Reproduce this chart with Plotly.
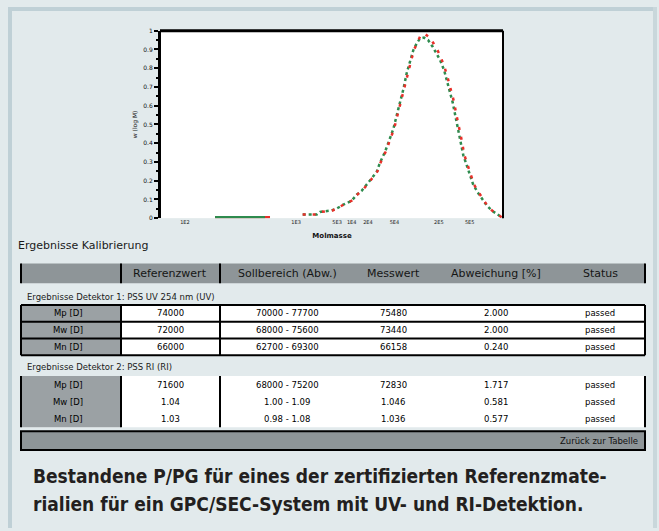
import plotly.graph_objects as go

W, H = 659, 531

# ---------------- chart data (log M vs. normalised signal) ----------------
green_base_x = [2.632, 3.216]
green_base_y = [0.005, 0.005]
red_base_x = [2.632, 3.275]
red_base_y = [0.005, 0.005]

green_x = [3.657, 3.821, 3.860, 3.996, 4.055, 4.132, 4.230, 4.289, 4.347, 4.406,
           4.464, 4.523, 4.561, 4.620, 4.658, 4.717, 4.775, 4.834, 4.874, 4.920,
           4.951, 4.991, 5.029, 5.076, 5.123, 5.178, 5.225, 5.263, 5.310, 5.342,
           5.380, 5.412, 5.439, 5.477, 5.509, 5.536, 5.575, 5.614, 5.653, 5.711,
           5.751, 5.809, 5.868, 5.945, 6.000]
green_y = [0.019, 0.019, 0.033, 0.041, 0.051, 0.072, 0.093, 0.125, 0.146, 0.177,
           0.212, 0.247, 0.296, 0.353, 0.405, 0.475, 0.581, 0.686, 0.774, 0.844,
           0.896, 0.932, 0.958, 0.963, 0.950, 0.914, 0.879, 0.844, 0.791, 0.738,
           0.677, 0.616, 0.554, 0.475, 0.405, 0.335, 0.283, 0.230, 0.177, 0.133,
           0.107, 0.068, 0.041, 0.016, 0.000]

red_x = [3.657, 3.821, 3.870, 4.006, 4.065, 4.142, 4.240, 4.299, 4.357, 4.416,
         4.474, 4.533, 4.571, 4.630, 4.668, 4.727, 4.785, 4.844, 4.884, 4.930,
         4.961, 5.001, 5.037, 5.085, 5.146, 5.190, 5.235, 5.275, 5.320, 5.355,
         5.395, 5.427, 5.452, 5.490, 5.520, 5.547, 5.585, 5.624, 5.662, 5.720,
         5.760, 5.815, 5.872, 5.948, 6.000]
red_y = [0.019, 0.019, 0.033, 0.041, 0.053, 0.074, 0.095, 0.127, 0.148, 0.180,
         0.215, 0.250, 0.299, 0.356, 0.408, 0.478, 0.584, 0.690, 0.778, 0.848,
         0.900, 0.938, 0.975, 0.982, 0.963, 0.930, 0.895, 0.855, 0.800, 0.745,
         0.683, 0.620, 0.558, 0.478, 0.408, 0.338, 0.285, 0.232, 0.178, 0.134,
         0.107, 0.068, 0.040, 0.015, 0.000]

x_tick_vals = [2.28, 3.58, 4.06, 4.23, 4.42, 4.73, 5.25, 5.61]
x_tick_text = ["1E2", "1E3", "5E3", "1E4", "2E4", "5E4", "2E5", "5E5"]
x_title = "Molmasse"
y_title = "w (log M)"

# ---------------- table data ----------------
table_title = "Ergebnisse Kalibrierung"
header_labels = ["", "Referenzwert", "Sollbereich (Abw.)", "Messwert", "Abweichung [%]", "Status"]
section1_label = "Ergebnisse Detektor 1: PSS UV 254 nm (UV)"
section2_label = "Ergebnisse Detektor 2: PSS RI (RI)"
group1_rows = [
    ["Mp [D]", "74000", "70000 - 77700", "75480", "2.000", "passed"],
    ["Mw [D]", "72000", "68000 - 75600", "73440", "2.000", "passed"],
    ["Mn [D]", "66000", "62700 - 69300", "66158", "0.240", "passed"],
]
group2_rows = [
    ["Mp [D]", "71600", "68000 - 75200", "72830", "1.717", "passed"],
    ["Mw [D]", "1.04", "1.00 - 1.09", "1.046", "0.581", "passed"],
    ["Mn [D]", "1.03", "0.98 - 1.08", "1.036", "0.577", "passed"],
]
footer_label = "Zurück zur Tabelle"
caption_lines = [
    "Bestandene P/PG für eines der zertifizierten Referenzmate-",
    "rialien für ein GPC/SEC-System mit UV- und RI-Detektion.",
]

# ---------------- helpers ----------------
def fx(x):
    return x / W

def fy(y):
    return 1 - y / H

BG = "#e2eaec"
BAND = "#bfd0d6"
GREY_HEAD = "#8e9598"
GREY_COL = "#9ba1a4"
GREEN = "#2e8b4e"
RED = "#e8302a"

fig = go.Figure()

fig.add_trace(go.Scatter(x=red_base_x, y=red_base_y, mode="lines",
                         line=dict(color=RED, width=2.5), hoverinfo="skip", showlegend=False))
fig.add_trace(go.Scatter(x=green_base_x, y=green_base_y, mode="lines",
                         line=dict(color=GREEN, width=2.5), hoverinfo="skip", showlegend=False))
fig.add_trace(go.Scatter(x=green_x, y=green_y, mode="lines",
                         line=dict(color=GREEN, width=2.5, dash="3px,3px"),
                         showlegend=False))
fig.add_trace(go.Scatter(x=red_x, y=red_y, mode="lines",
                         line=dict(color=RED, width=2.5, dash="3px,7px"),
                         showlegend=False))

X0, X1, Y0, Y1 = 161, 503, 27, 217

fig.update_layout(
    width=W, height=H,
    margin=dict(l=0, r=0, t=0, b=0),
    paper_bgcolor=BG,
    plot_bgcolor="white",
    showlegend=False,
    xaxis=dict(domain=[fx(X0), fx(X1)], range=[2, 6], showgrid=False, zeroline=False,
               showline=False, ticks="", tickvals=x_tick_vals, ticktext=x_tick_text,
               tickfont=dict(size=5, color="#222", family="DejaVu Sans"),
               title=dict(text="<b>" + x_title + "</b>", standoff=8,
                          font=dict(size=7, color="#111", family="DejaVu Sans"))),
    yaxis=dict(domain=[fy(Y1), fy(Y0)], range=[0, 1], showgrid=False, zeroline=False,
               showline=True, linewidth=3, linecolor="black", mirror=False,
               ticks="outside", ticklen=4, tickwidth=1.5, tickcolor="black", dtick=0.1,
               minor=dict(ticks="outside", ticklen=2, tickcolor="black", dtick=0.05),
               tickfont=dict(size=6, color="#111", family="DejaVu Sans"),
               title=dict(text=y_title, standoff=6,
                          font=dict(size=6, color="#111", family="DejaVu Sans"))),
)

shapes = []

def rect(x0, y0, x1, y1, fill, line_color=None, lw=0):
    shapes.append(dict(type="rect", xref="paper", yref="paper",
                       x0=fx(x0), x1=fx(x1), y0=fy(y1), y1=fy(y0),
                       fillcolor=fill, line=dict(color=line_color or fill, width=lw),
                       layer="below"))

def line(x0, y0, x1, y1, color="black", lw=2):
    shapes.append(dict(type="line", xref="paper", yref="paper",
                       x0=fx(x0), x1=fx(x1), y0=fy(y0), y1=fy(y1),
                       line=dict(color=color, width=lw)))

# outer frame bands
rect(8, 3, 657, 7, BAND)
rect(8, 3, 12, 531, BAND)
rect(653, 3, 657, 531, "#c9d7db")

# chart frame lines
line(X0 - 1, Y0, X1, Y0, "black", 3)
line(X1, Y0, X1, Y1, "black", 2)

# table columns
col_edges = [21, 121, 220, 645]
col_centers = [68, 170, 287, 393, 496, 600]

# header
rect(21, 263, 645, 283, GREY_HEAD)
for xe in col_edges:
    line(xe, 263, xe, 283, "black", 2)

# group 1
g1_top, g1_row = 305, 17
g1_bot = g1_top + g1_row * len(group1_rows)
rect(21, g1_top, 645, g1_bot, "white")
rect(21, g1_top, 121, g1_bot, GREY_COL)
for i in range(1, len(group1_rows)):
    line(21, g1_top + i * g1_row, 645, g1_top + i * g1_row, "black", 2)
for xe in col_edges:
    line(xe, g1_top, xe, g1_bot, "black", 2)
line(21, g1_top, 645, g1_top, "black", 2)
line(21, g1_bot, 645, g1_bot, "black", 2)

# group 2
g2_top, g2_row = 377, 17.3
g2_bot = 429
rect(21, g2_top, 645, g2_bot, "white")
rect(21, g2_top, 121, g2_bot, GREY_COL)
for xe in col_edges:
    line(xe, g2_top, xe, g2_bot, "black", 2)

# footer bar
rect(21, 433, 645, 452, GREY_HEAD, "black", 2)

fig.update_layout(shapes=shapes)

ann = []

def text(x, y, s, size=8, color="#111", anchor="center", family="DejaVu Sans", bold=False):
    ann.append(dict(x=fx(x), y=fy(y), xref="paper", yref="paper", text=s, showarrow=False,
                    xanchor=anchor, yanchor="middle",
                    font=dict(size=size, color=color, family=family,
                              weight="bold" if bold else "normal")))

text(16, 245, table_title, size=11, color="#1a1a1a", anchor="left", family="DejaVu Sans")
for c, lab in zip(col_centers, header_labels):
    if lab:
        text(c, 273, lab, size=11, color="#151515")
text(25, 297, section1_label, size=8.5, color="#1a1a1a", anchor="left")
for r, row in enumerate(group1_rows):
    yc = g1_top + g1_row * (r + 0.5)
    for c, val in zip(col_centers, row):
        text(c, yc, val, size=8.5, color="#000")
text(25, 368, section2_label, size=8.5, color="#1a1a1a", anchor="left")
for r, row in enumerate(group2_rows):
    yc = g2_top + g2_row * (r + 0.5)
    for c, val in zip(col_centers, row):
        text(c, yc, val, size=8.5, color="#000")
text(640, 442.5, footer_label, size=8.5, color="#111", anchor="right")

cap_font = "DejaVu Sans Condensed, DejaVu Sans, sans-serif"
text(31, 478.5, caption_lines[0], size=19, color="#231f20", anchor="left",
     family=cap_font, bold=True)
text(31, 507, caption_lines[1], size=19, color="#231f20", anchor="left",
     family=cap_font, bold=True)

fig.update_layout(annotations=ann)

fig.write_html(
    "out.html",
    config={"displayModeBar": False},
    post_script="document.body.style.margin='0';document.body.style.background='" + BG + "';",
)
